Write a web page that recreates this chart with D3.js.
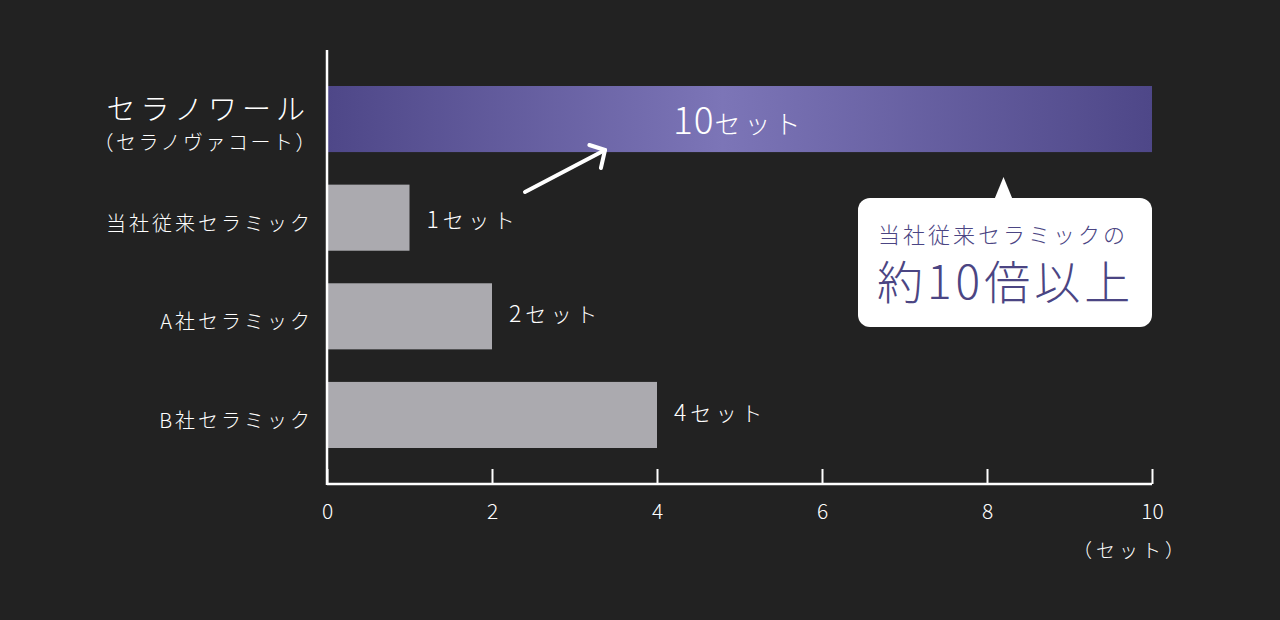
<!DOCTYPE html>
<html>
<head>
<meta charset="utf-8">
<script src="https://cdnjs.cloudflare.com/ajax/libs/d3/7.8.5/d3.min.js"></script>
<style>
    html, body { margin: 0; padding: 0; background: #222222; }
    svg { display: block; font-family: "Noto Sans CJK JP", "Noto Sans", sans-serif; font-weight: 300; }
</style>
</head>
<body>
<div id="chart"></div>
<script>
// data
var categories = ["セラノワール", "当社従来セラミック", "A社セラミック", "B社セラミック"];
var values = [10, 1, 2, 4];
var valueUnit = "セット";
var ticks = [0, 2, 4, 6, 8, 10];
var subLabel = "（セラノヴァコート）";
var unitLabel = "（セット）";
var calloutLines = ["当社従来セラミックの", "約10倍以上"];

var width = 1280, height = 620;
var margin = {top: 50, left: 327, right: 128, bottom: 136};

var svg = d3.select("#chart")
    .append("svg")
    .attr("width", width)
    .attr("height", height);

var x = d3.scaleLinear()
    .domain([0, 10])
    .range([margin.left, width - margin.right]);

var y = d3.scaleBand()
    .domain(categories)
    .range([86, 448])
    .paddingInner(0.33)
    .paddingOuter(0);

var axisY = height - margin.bottom;

// gradient for the highlighted bar
var defs = svg.append("defs");
var grad = defs.append("linearGradient")
    .attr("id", "topGrad")
    .attr("x1", "0%").attr("x2", "100%")
    .attr("y1", "0%").attr("y2", "0%");
grad.append("stop").attr("offset", "0%").attr("stop-color", "#4e4788");
grad.append("stop").attr("offset", "48%").attr("stop-color", "#7c75b7");
grad.append("stop").attr("offset", "100%").attr("stop-color", "#4e4788");

// bars
svg.append("g")
    .selectAll("rect")
    .data(values).enter()
    .append("rect")
    .attr("x", x(0))
    .attr("y", function(d, i){ return y(categories[i]); })
    .attr("width", function(d){ return x(d) - x(0); })
    .attr("height", y.bandwidth())
    .attr("fill", function(d, i){ return i === 0 ? "url(#topGrad)" : "#abaaaf"; });

// x axis, ticks pointing up
var xAxis = svg.append("g")
    .attr("transform", "translate(0," + axisY + ")")
    .call(d3.axisBottom(x).tickValues(ticks).tickSize(-15).tickPadding(0).tickFormat(d3.format("d")));
xAxis.select(".domain").attr("stroke", "#ffffff").attr("stroke-width", 2.5).attr("d", "M" + x(0) + ",0H" + x(10));
xAxis.selectAll(".tick line").attr("stroke", "#ffffff").attr("stroke-width", 2);
xAxis.selectAll(".tick text")
    .attr("fill", "#ffffff")
    .attr("font-size", 21)
    .attr("font-weight", 300)
    .attr("font-family", "'Noto Sans CJK JP', 'Noto Sans', sans-serif")
    .attr("y", 35)
    .attr("dy", 0);

// y axis line
svg.append("line")
    .attr("x1", x(0)).attr("x2", x(0))
    .attr("y1", margin.top).attr("y2", axisY + 1)
    .attr("stroke", "#ffffff")
    .attr("stroke-width", 2.5);

// category labels
svg.append("g")
    .selectAll("text")
    .data(categories).enter()
    .append("text")
    .attr("x", function(d, i){ return i === 0 ? 310 : 313; })
    .attr("y", function(d, i){ return y(d) + y.bandwidth() / 2 + (i === 0 ? -9 : 6); })
    .attr("dy", "0.35em")
    .attr("text-anchor", "end")
    .attr("fill", "#ffffff")
    .attr("font-size", function(d, i){ return i === 0 ? 29 : 20; })
    .attr("letter-spacing", function(d, i){ return i === 0 ? 5 : 3; })
    .text(function(d){ return d; });

svg.append("text")
    .attr("x", 318)
    .attr("y", y(categories[0]) + y.bandwidth() / 2 + 24)
    .attr("dy", "0.35em")
    .attr("text-anchor", "end")
    .attr("fill", "#ffffff")
    .attr("font-size", 20)
    .attr("letter-spacing", 2.5)
    .text(subLabel);

// value labels: number + unit
var valueText = svg.append("g")
    .selectAll("text")
    .data(values).enter()
    .append("text")
    .attr("x", function(d, i){ return i === 0 ? 673 : x(d) + 17; })
    .attr("y", function(d, i){ return y(categories[i]) + y.bandwidth() / 2 + (i === 0 ? 15 : (i === 1 ? 10 : 6)); })
    .attr("fill", "#ffffff");
valueText.append("tspan")
    .attr("font-size", function(d, i){ return i === 0 ? 37 : 23; })
    .attr("letter-spacing", function(d, i){ return i === 0 ? 1 : 4; })
    .text(function(d){ return d; });
valueText.append("tspan")
    .attr("font-size", function(d, i){ return i === 0 ? 26 : 21; })
    .attr("letter-spacing", function(d, i){ return i === 0 ? 4 : 4.5; })
    .text(valueUnit);

// unit label
svg.append("text")
    .attr("x", x(10) + 36)
    .attr("y", axisY + 74)
    .attr("text-anchor", "end")
    .attr("fill", "#ffffff")
    .attr("font-size", 19)
    .attr("letter-spacing", 4)
    .text(unitLabel);

// arrow pointing at the top bar
var arrow = svg.append("g")
    .attr("stroke", "#ffffff")
    .attr("stroke-width", 4)
    .attr("stroke-linecap", "round")
    .attr("fill", "none");
arrow.append("line")
    .attr("x1", x(2.4)).attr("y1", 192)
    .attr("x2", x(3.37)).attr("y2", 150);
arrow.append("polyline")
    .attr("stroke-linejoin", "round")
    .attr("points", [[x(3.18), 145], [x(3.37), 150], [x(3.32), 168]].join(" "));

// callout bubble
var cx0 = 858, cx1 = x(10), cy0 = 198, cy1 = 327;
var bubble = svg.append("g");
bubble.append("rect")
    .attr("x", cx0).attr("y", cy0)
    .attr("width", cx1 - cx0).attr("height", cy1 - cy0)
    .attr("rx", 12)
    .attr("fill", "#ffffff");
bubble.append("path")
    .attr("d", "M" + (x(8.2) - 9) + "," + (cy0 + 1) + "L" + x(8.2) + ",177L" + (x(8.2) + 9) + "," + (cy0 + 1) + "Z")
    .attr("fill", "#ffffff");
bubble.append("text")
    .attr("x", 878)
    .attr("y", 243)
    .attr("fill", "#4b4583")
    .attr("font-size", 22)
    .attr("letter-spacing", 3)
    .text(calloutLines[0]);
bubble.append("text")
    .attr("x", 877)
    .attr("y", 299)
    .attr("fill", "#4b4583")
    .attr("font-size", 46)
    .attr("letter-spacing", 4)
    .text(calloutLines[1]);
</script>
</body>
</html>
